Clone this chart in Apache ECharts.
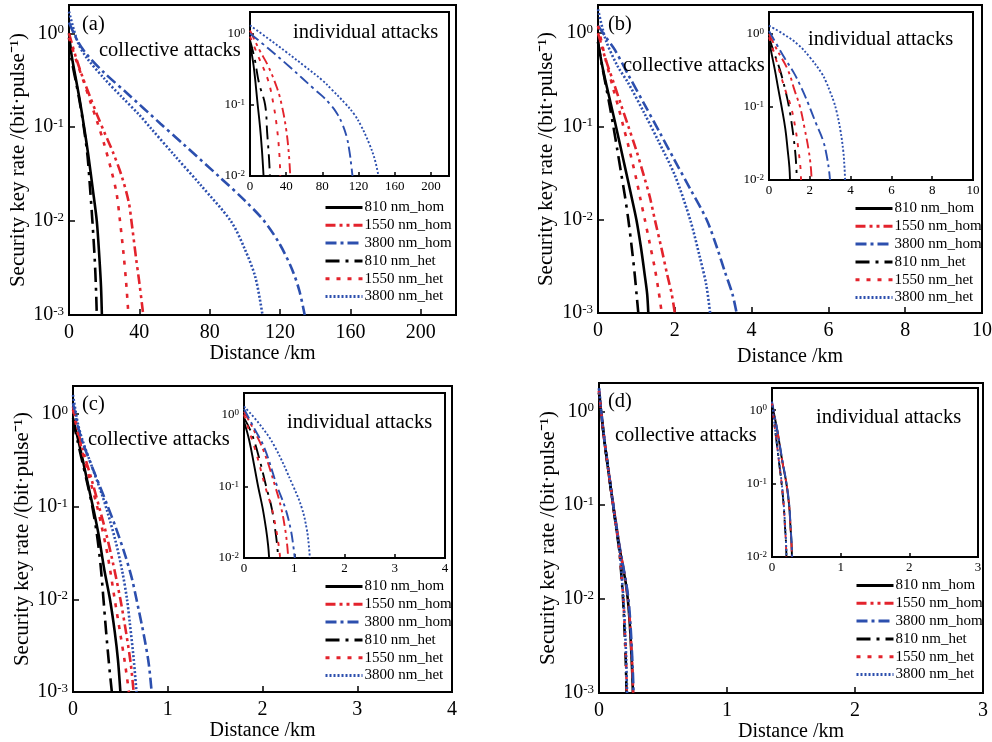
<!DOCTYPE html>
<html><head><meta charset="utf-8">
<script src="https://cdn.jsdelivr.net/npm/echarts@6/dist/echarts.min.js"></script>
<style>html,body{margin:0;padding:0;background:#fff}#c{width:992px;height:742px}</style>
</head><body><div id="c"></div>
<script>
// ---------- DATA ----------
const seriesNames = ['810 nm_hom', '1550 nm_hom', '3800 nm_hom', '810 nm_het', '1550 nm_het', '3800 nm_het'];
const panelLabels = ['(a)', '(b)', '(c)', '(d)'];
const xMaxes = [220, 10, 4, 3];
const xIntervals = [40, 2, 1, 1];

// (a) main — collective attacks
const a_810hom = [[0,1.0],[1.5,0.58],[4,0.32],[6,0.2],[8.6,0.1],[11,0.05],[13.5,0.022],[15.8,0.01],[17.3,0.004],[18.2,0.002],[18.7,0.001]];
const a_1550hom = [[0,1.0],[4,0.55],[8,0.33],[12,0.21],[16,0.135],[20,0.089],[25,0.054],[30,0.03],[34,0.0158],[35.5,0.01],[38,0.0042],[40,0.0022],[41.5,0.0013],[42.2,0.001]];
const a_3800hom = [[0,1.3],[5,0.82],[10,0.6],[20,0.38],[33,0.23],[52,0.109],[65,0.066],[86,0.029],[100,0.0165],[111,0.01],[120,0.0056],[127,0.003],[131,0.0018],[134,0.001]];
const a_810het = [[0,0.9],[1.5,0.52],[4,0.3],[6,0.19],[8.4,0.1],[10.5,0.05],[12,0.022],[13.3,0.01],[14.6,0.004],[15.3,0.002],[15.8,0.001]];
const a_1550het = [[0,0.9],[4,0.52],[8,0.32],[12,0.19],[16,0.115],[20,0.066],[24,0.035],[27,0.02],[29,0.01],[31,0.0045],[32.5,0.0022],[33.8,0.001]];
const a_3800het = [[0,1.7],[5,0.8],[10,0.55],[20,0.33],[30,0.21],[40,0.135],[46,0.1],[60,0.05],[75,0.024],[92,0.01],[100,0.005],[106,0.0025],[110,0.001]];
// (a) inset — individual attacks
const ai_810hom = [[0,0.7],[4,0.35],[8.5,0.1],[11,0.05],[13,0.025],[15,0.01]];
const ai_1550hom = [[0,1.1],[10,0.6],[20,0.35],[30,0.17],[35,0.1],[40,0.045],[43,0.02],[44.5,0.01]];
const ai_3800hom = [[0,1.0],[20,0.62],[45,0.33],[70,0.17],[80,0.132],[89,0.1],[96,0.076],[102,0.054],[107,0.035],[110,0.022],[112,0.014],[113.3,0.01]];
const ai_810het = [[0,0.8],[5,0.45],[10,0.2],[16.7,0.1],[19,0.04],[21,0.018],[22,0.01]];
const ai_1550het = [[0,0.9],[10,0.45],[20,0.22],[26,0.1],[30,0.045],[32.5,0.02],[33.5,0.01]];
const ai_3800het = [[0,1.3],[20,0.85],[40,0.55],[60,0.35],[80,0.22],[90,0.165],[105,0.105],[115,0.074],[123,0.05],[132,0.028],[138,0.017],[142,0.01]];

// (b) main
const b_810hom = [[0,0.8],[0.1,0.47],[0.2,0.3],[0.3,0.2],[0.44,0.112],[0.58,0.062],[0.72,0.034],[0.86,0.0186],[1.0,0.01],[1.12,0.005],[1.22,0.0025],[1.28,0.0016],[1.31,0.001]];
const b_1550hom = [[0,1.0],[0.1,0.72],[0.2,0.52],[0.4,0.3],[0.6,0.17],[0.79,0.1],[1.0,0.055],[1.2,0.029],[1.35,0.0175],[1.48,0.01],[1.65,0.005],[1.8,0.0026],[1.92,0.0016],[2.0,0.001]];
const b_3800hom = [[0,1.2],[0.2,0.91],[0.44,0.66],[0.8,0.35],[1.22,0.169],[1.6,0.087],[2.0,0.043],[2.4,0.0214],[2.83,0.01],[3.1,0.005],[3.3,0.0028],[3.5,0.0016],[3.61,0.001]];
const b_810het = [[0,0.8],[0.1,0.46],[0.2,0.28],[0.3,0.17],[0.4,0.1],[0.5,0.057],[0.6,0.032],[0.7,0.018],[0.79,0.01],[0.88,0.005],[0.96,0.0025],[1.01,0.0015],[1.05,0.001]];
const b_1550het = [[0,1.2],[0.1,0.78],[0.2,0.52],[0.4,0.25],[0.55,0.15],[0.66,0.1],[0.8,0.06],[1.0,0.027],[1.1,0.017],[1.22,0.01],[1.35,0.0055],[1.48,0.003],[1.58,0.0017],[1.66,0.001]];
const b_3800het = [[0,1.8],[0.2,0.85],[0.5,0.45],[0.79,0.29],[1.2,0.14],[1.57,0.07],[2.0,0.03],[2.4,0.01],[2.65,0.004],[2.82,0.002],[2.92,0.001]];
// (b) inset
const bi_810hom = [[0,0.8],[0.15,0.5],[0.29,0.32],[0.45,0.18],[0.62,0.1],[0.8,0.05],[0.92,0.025],[1.0,0.015],[1.03,0.01]];
const bi_1550hom = [[0,1.0],[0.4,0.6],[0.93,0.32],[1.25,0.17],[1.52,0.1],[1.75,0.05],[1.95,0.025],[2.05,0.015],[2.09,0.01]];
const bi_3800hom = [[0,1.1],[0.4,0.7],[0.78,0.46],[1.2,0.3],[1.6,0.18],[1.93,0.11],[2.3,0.06],[2.66,0.034],[2.85,0.02],[2.95,0.013],[2.99,0.01]];
const bi_810het = [[0,0.9],[0.25,0.55],[0.54,0.32],[0.8,0.17],[0.98,0.1],[1.15,0.05],[1.28,0.025],[1.34,0.015],[1.36,0.01]];
const bi_1550het = [[0,0.9],[0.25,0.55],[0.5,0.32],[0.8,0.17],[1.08,0.1],[1.3,0.05],[1.45,0.025],[1.54,0.015],[1.57,0.01]];
const bi_3800het = [[0,1.3],[0.7,1.0],[1.44,0.71],[2.0,0.48],[2.58,0.29],[2.8,0.22],[3.0,0.16],[3.17,0.12],[3.32,0.085],[3.5,0.048],[3.64,0.025],[3.7,0.015],[3.73,0.01]];

// (c) main
const c_810hom = [[0,0.9],[0.05,0.55],[0.1,0.33],[0.15,0.19],[0.21,0.1],[0.27,0.05],[0.33,0.021],[0.39,0.01],[0.44,0.0045],[0.475,0.0022],[0.5,0.001]];
const c_1550hom = [[0,1.2],[0.05,0.676],[0.1,0.427],[0.15,0.282],[0.2,0.19],[0.28,0.0955],[0.35,0.0513],[0.42,0.0251],[0.5,0.01],[0.56,0.0044],[0.61,0.002],[0.64,0.001]];
const c_3800hom = [[0,1.3],[0.05,0.75],[0.1,0.5],[0.2,0.27],[0.3,0.15],[0.36,0.105],[0.45,0.06],[0.55,0.03],[0.62,0.017],[0.67,0.01],[0.75,0.004],[0.8,0.002],[0.83,0.001]];
const c_810het = [[0,0.85],[0.05,0.5],[0.1,0.3],[0.15,0.18],[0.2,0.105],[0.25,0.052],[0.29,0.024],[0.32,0.0105],[0.35,0.0044],[0.38,0.002],[0.41,0.001]];
const c_1550het = [[0,1.1],[0.05,0.63],[0.1,0.39],[0.15,0.25],[0.2,0.162],[0.25,0.105],[0.3,0.063],[0.37,0.0282],[0.44,0.01],[0.5,0.0042],[0.55,0.002],[0.59,0.001]];
const c_3800het = [[0,1.6],[0.05,0.8],[0.1,0.52],[0.2,0.27],[0.3,0.14],[0.36,0.09],[0.45,0.042],[0.52,0.02],[0.57,0.01],[0.6,0.0055],[0.64,0.0023],[0.67,0.001]];
// (c) inset
const ci_810hom = [[0,0.8],[0.1,0.45],[0.2,0.2],[0.28,0.1],[0.37,0.05],[0.44,0.025],[0.48,0.015],[0.5,0.01]];
const ci_1550hom = [[0,1.1],[0.2,0.6],[0.4,0.3],[0.62,0.1],[0.74,0.05],[0.82,0.025],[0.86,0.015],[0.88,0.01]];
const ci_3800hom = [[0,1.2],[0.2,0.65],[0.4,0.35],[0.66,0.1],[0.82,0.05],[0.93,0.025],[0.98,0.015],[1.01,0.01]];
const ci_810het = [[0,0.9],[0.15,0.55],[0.3,0.25],[0.44,0.1],[0.55,0.05],[0.62,0.025],[0.66,0.015],[0.68,0.01]];
const ci_1550het = [[0,1.0],[0.1,0.6],[0.25,0.28],[0.42,0.1],[0.55,0.05],[0.64,0.025],[0.69,0.015],[0.72,0.01]];
const ci_3800het = [[0,1.3],[0.3,0.75],[0.6,0.37],[0.98,0.1],[1.15,0.05],[1.25,0.025],[1.29,0.015],[1.31,0.01]];

// (d) main
const d_810hom = [[0,1.58],[0.02,0.89],[0.04,0.51],[0.07,0.25],[0.1,0.126],[0.13,0.066],[0.16,0.0355],[0.19,0.021],[0.21,0.0145],[0.225,0.01],[0.24,0.0056],[0.252,0.0028],[0.26,0.0016],[0.265,0.001]];
const d_1550hom = [[0,1.65],[0.02,0.9],[0.04,0.52],[0.07,0.255],[0.1,0.128],[0.13,0.067],[0.16,0.036],[0.19,0.0215],[0.21,0.015],[0.227,0.01],[0.242,0.0056],[0.254,0.0028],[0.262,0.0016],[0.267,0.001]];
const d_3800hom = [[0,1.75],[0.02,0.93],[0.04,0.53],[0.07,0.26],[0.1,0.13],[0.13,0.069],[0.16,0.037],[0.19,0.022],[0.21,0.0155],[0.23,0.01],[0.245,0.0056],[0.257,0.0028],[0.265,0.0016],[0.27,0.001]];
const d_810het = [[0,1.58],[0.02,0.89],[0.04,0.51],[0.07,0.25],[0.1,0.126],[0.13,0.063],[0.16,0.0316],[0.175,0.0178],[0.188,0.01],[0.2,0.0045],[0.209,0.0022],[0.215,0.001]];
const d_1550het = [[0,1.65],[0.02,0.9],[0.04,0.52],[0.07,0.255],[0.1,0.127],[0.13,0.064],[0.16,0.032],[0.176,0.018],[0.19,0.01],[0.202,0.0045],[0.211,0.0022],[0.217,0.001]];
const d_3800het = [[0,1.75],[0.02,0.93],[0.04,0.53],[0.07,0.26],[0.1,0.128],[0.13,0.065],[0.16,0.033],[0.177,0.018],[0.191,0.01],[0.204,0.0045],[0.213,0.0022],[0.219,0.001]];
// (d) inset
const di_810hom = [[0,1.2],[0.04,0.8],[0.09,0.45],[0.15,0.2],[0.21,0.1],[0.25,0.05],[0.27,0.025],[0.285,0.015],[0.29,0.01]];
const di_1550hom = [[0,1.25],[0.04,0.8],[0.09,0.45],[0.15,0.2],[0.21,0.1],[0.25,0.05],[0.27,0.025],[0.283,0.015],[0.288,0.01]];
const di_3800hom = [[0,1.3],[0.04,0.82],[0.09,0.46],[0.15,0.21],[0.212,0.1],[0.252,0.05],[0.272,0.025],[0.287,0.015],[0.293,0.01]];
const di_810het = [[0,1.2],[0.03,0.7],[0.07,0.35],[0.11,0.17],[0.14,0.1],[0.17,0.05],[0.19,0.025],[0.205,0.015],[0.21,0.01]];
const di_1550het = [[0,1.25],[0.03,0.7],[0.07,0.35],[0.11,0.17],[0.14,0.1],[0.17,0.05],[0.19,0.025],[0.203,0.015],[0.208,0.01]];
const di_3800het = [[0,1.3],[0.03,0.72],[0.07,0.36],[0.11,0.18],[0.142,0.1],[0.172,0.05],[0.192,0.025],[0.206,0.015],[0.212,0.01]];

const mainSets = [
  [a_810hom, a_1550hom, a_3800hom, a_810het, a_1550het, a_3800het],
  [b_810hom, b_1550hom, b_3800hom, b_810het, b_1550het, b_3800het],
  [c_810hom, c_1550hom, c_3800hom, c_810het, c_1550het, c_3800het],
  [d_810hom, d_1550hom, d_3800hom, d_810het, d_1550het, d_3800het]
];
const insetSets = [
  [ai_810hom, ai_1550hom, ai_3800hom, ai_810het, ai_1550het, ai_3800het],
  [bi_810hom, bi_1550hom, bi_3800hom, bi_810het, bi_1550het, bi_3800het],
  [ci_810hom, ci_1550hom, ci_3800hom, ci_810het, ci_1550het, ci_3800het],
  [di_810hom, di_1550hom, di_3800hom, di_810het, di_1550het, di_3800het]
];

// ---------- STYLE / LAYOUT ----------
const FONT = '"Liberation Serif", "Times New Roman", serif';
const RED = '#e3232c', BLUE = '#2c4fae', BLACK = '#000000';
const lineStyles = [
  { color: BLACK, type: 'solid' },
  { color: RED, type: [10, 4, 3, 4, 3, 4] },
  { color: BLUE, type: [11, 4, 3, 4] },
  { color: BLACK, type: [14, 6, 3, 6] },
  { color: RED, type: [4, 7] },
  { color: BLUE, type: [2, 2] }
];
const mainGrids = [
  { left: 69, top: 5, width: 387, height: 310 },
  { left: 598, top: 5, width: 384, height: 308 },
  { left: 73, top: 386, width: 379, height: 306 },
  { left: 599, top: 383, width: 384, height: 310 }
];
const insetGrids = [
  { left: 250, top: 12, width: 199, height: 164 },
  { left: 769, top: 12, width: 204, height: 168 },
  { left: 244, top: 393, width: 201, height: 165 },
  { left: 772, top: 388, width: 206, height: 169 }
];
const yNameGaps = [36, 41, 38, 39];
const xNameGaps = [29, 34, 25, 28];
const legendPos = [
  { left: 324, top: 200 }, { left: 854, top: 201 },
  { left: 324, top: 579 }, { left: 855, top: 578 }
];
const texts = [
  ['(a)', 82, 25], ['collective attacks', 99, 51], ['individual attacks', 293, 33],
  ['(b)', 608, 25], ['collective attacks', 623, 66], ['individual attacks', 808, 40],
  ['(c)', 82, 405], ['collective attacks', 88, 440], ['individual attacks', 287, 423],
  ['(d)', 608, 402], ['collective attacks', 615, 436], ['individual attacks', 816, 418]
];

function logLabel(v) {
  const l = Math.log10(v);
  const e = Math.round(l);
  if (Math.abs(l - e) > 1e-6) return '';
  return '{b|10}{s|' + e + '}';
}
function richFor(big, small) {
  return {
    b: { fontFamily: FONT, fontSize: big, color: '#000', verticalAlign: 'bottom' },
    s: { fontFamily: FONT, fontSize: small, color: '#000', verticalAlign: 'top' }
  };
}

const grid = [], xAxis = [], yAxis = [], series = [], legend = [], graphic = [];
for (let p = 0; p < 4; p++) {
  [mainGrids[p], insetGrids[p]].forEach((g, k) => {
    const inset = k === 1;
    grid.push(Object.assign({ show: true, borderColor: '#000', borderWidth: 2,
      backgroundColor: '#fff', outerBoundsMode: 'none', containLabel: false }, g));
    const gi = grid.length - 1;
    const fs = inset ? 13 : 20;
    xAxis.push({
      type: 'value', gridIndex: gi, min: 0, max: xMaxes[p], interval: xIntervals[p],
      splitLine: { show: false },
      axisLine: { show: true, onZero: false, lineStyle: { color: '#000', width: 2 } },
      axisTick: { show: true, inside: true, length: inset ? 4 : 6, lineStyle: { color: '#000', width: 1.5 } },
      axisLabel: { color: '#000', fontFamily: FONT, fontSize: fs, margin: inset ? 4 : 8,
        showMaxLabel: xMaxes[p] % xIntervals[p] === 0 },
      name: inset ? '' : 'Distance /km', nameLocation: 'middle', nameGap: xNameGaps[p],
      nameTextStyle: { color: '#000', fontFamily: FONT, fontSize: 20, verticalAlign: 'top' }
    });
    yAxis.push({
      type: 'log', logBase: 10, gridIndex: gi, min: inset ? 0.01 : 0.001, max: 2,
      splitLine: { show: false },
      axisLine: { show: true, onZero: false, lineStyle: { color: '#000', width: 2 } },
      axisTick: { show: true, inside: true, length: inset ? 4 : 6, lineStyle: { color: '#000', width: 1.5 } },
      axisLabel: { color: '#000', fontFamily: FONT, margin: 5,
        formatter: logLabel, showMaxLabel: false,
        rich: inset ? richFor(13, 9) : richFor(20, 13) },
      name: inset ? '' : 'Security key rate /(bit\u00B7pulse\u207B\u00B9)', nameLocation: 'middle',
      nameGap: yNameGaps[p],
      nameTextStyle: { color: '#000', fontFamily: FONT, fontSize: 21 }
    });
    const sets = inset ? insetSets[p] : mainSets[p];
    sets.forEach((d, i) => {
      series.push({
        type: 'line', name: seriesNames[i], xAxisIndex: gi, yAxisIndex: gi, data: d,
        symbol: 'none', showSymbol: false, smooth: inset ? 0.4 : 0.3,
        silent: true, animation: false, clip: true, z: inset ? 5 : 2,
        lineStyle: { color: lineStyles[i].color, type: lineStyles[i].type, width: inset ? 1.9 : 2.6, cap: 'butt' },
        itemStyle: { color: lineStyles[i].color }
      });
    });
  });
  legend.push(Object.assign({
    orient: 'vertical', padding: 0, itemWidth: 37, itemHeight: 14, itemGap: 2.8,
    selectedMode: false, data: seriesNames,
    itemStyle: { opacity: 0, color: 'rgba(0,0,0,0)', borderWidth: 0 },
    lineStyle: { width: 3 },
    textStyle: { color: '#000', fontFamily: FONT, fontSize: 15, padding: [0, 0, 0, -3] }
  }, legendPos[p]));
}
texts.forEach(t => {
  graphic.push({ type: 'text', x: t[1], y: t[2], z: 10,
    style: { text: t[0], font: '20.5px ' + FONT, fill: '#000', textVerticalAlign: 'middle' } });
});

const chart = echarts.init(document.getElementById('c'), null, { renderer: 'canvas' });
chart.setOption({ backgroundColor: '#fff', animation: false, grid, xAxis, yAxis, series, legend, graphic });
</script></body></html>
